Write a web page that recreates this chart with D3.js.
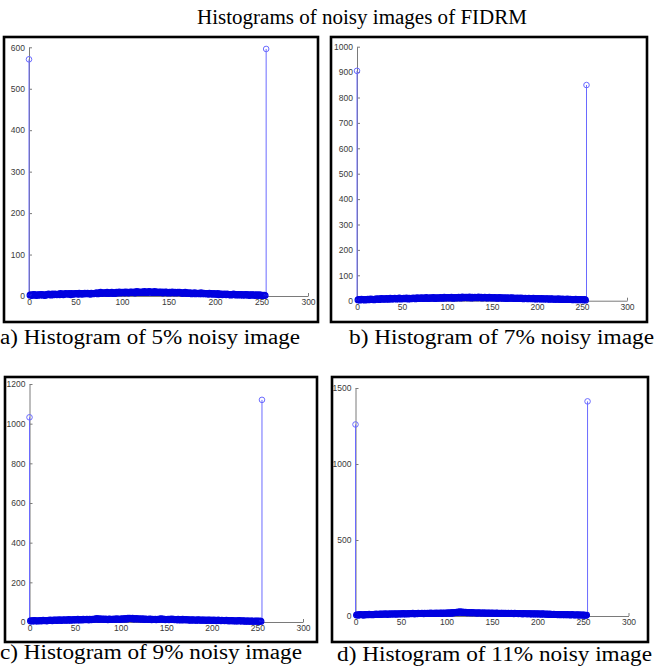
<!DOCTYPE html>
<html><head><meta charset="utf-8">
<script src="https://cdn.jsdelivr.net/npm/d3@7"></script>
<style>html,body{margin:0;padding:0;background:#fff;}svg{display:block;}</style>
</head><body>
<svg id="c" width="657" height="671"></svg>
<script>
// ---------- data ----------
const title = "Histograms of noisy images of FIDRM";
const captions = ["a) Histogram of 5% noisy image","b) Histogram of 7% noisy image","c) Histogram of 9% noisy image","d) Histogram of 11% noisy image"];
const xTicks = [0,50,100,150,200,250,300];
const yTicksA = [0,100,200,300,400,500,600];
const yTicksB = [0,100,200,300,400,500,600,700,800,900,1000];
const yTicksC = [0,200,400,600,800,1000,1200];
const yTicksD = [0,500,1000,1500];
// counts at grey level 0 and 255
const peakA = [571, 596];
const peakB = [905, 849];
const peakC = [1032, 1120];
const peakD = [1260, 1412];
// counts at grey levels 1..254
const noiseA = [2,3,1,2,4,3,2,1,3,2, 3,2,4,3,2,3,1,2,4,3, 5,3,4,2,5,4,3,5,4,3, 4,5,3,6,4,5,3,4,6,5,
 5,4,6,5,3,6,5,4,5,6, 6,5,4,7,5,6,4,6,5,7, 5,6,7,5,6,4,7,6,5,6, 7,6,8,5,7,6,9,7,6,8,
 7,8,6,9,7,6,8,7,9,6, 8,7,6,9,8,7,10,8,7,9, 8,9,7,10,8,9,7,8,10,9, 9,8,10,7,9,11,8,10,9,8,
 10,9,8,11,9,10,8,9,11,10, 9,10,8,9,11,8,10,9,8,10, 9,8,10,7,9,8,10,9,7,8, 9,7,8,10,8,7,9,8,7,9,
 8,9,7,8,6,8,7,9,6,8, 7,6,8,7,5,7,6,8,5,7, 6,7,5,6,8,5,6,7,5,6, 5,6,4,7,5,6,4,5,6,4,
 5,4,6,3,5,4,5,3,4,5, 4,3,5,4,3,4,2,4,3,5, 3,4,2,3,4,3,2,4,3,2, 3,2,4,3,2,3,1,3,2,3,
 2,3,1,2,3,2,1,3,2,1, 2,1,2,1];
const noiseB = [3,5,2,4,6,3,5,4,2,5, 4,6,3,5,7,4,6,5,3,6, 7,5,8,6,4,7,9,6,8,5, 8,6,9,7,5,8,10,7,6,9,
 7,10,8,6,9,7,11,8,6,9, 8,10,7,9,11,8,6,10,9,7, 10,8,11,9,7,10,12,8,9,11, 9,12,10,8,11,9,13,10,8,11,
 10,12,9,11,13,10,8,12,11,9, 12,10,13,11,9,12,14,10,11,13, 11,13,10,12,14,11,9,13,12,10, 13,11,14,12,10,13,15,11,12,14,
 12,14,11,13,15,12,10,14,13,11, 14,12,13,11,15,13,12,14,10,13, 12,14,11,13,10,12,14,11,13,10, 12,11,13,10,12,9,11,13,10,12,
 11,9,12,10,11,8,12,10,9,11, 10,12,9,11,8,10,9,11,8,10, 9,11,8,10,7,9,10,8,9,7, 10,8,9,7,8,10,7,9,6,8,
 9,7,8,6,9,7,8,6,7,8, 6,8,7,5,7,8,6,7,5,6, 7,5,6,8,5,6,4,7,5,6, 4,6,5,7,4,5,6,4,5,3,
 5,4,6,3,5,4,3,5,4,3, 4,3,5,2];
const noiseC = [5,7,4,6,8,5,7,6,4,7, 6,8,5,7,9,6,8,7,5,8, 9,7,10,8,6,9,11,8,10,7, 10,8,12,9,7,11,10,9,12,8,
 11,9,13,10,8,12,11,9,13,10, 12,10,14,11,9,13,12,10,14,11, 13,11,15,12,10,14,13,11,15,12, 14,16,13,18,15,12,17,14,13,16,
 14,12,16,13,15,11,14,16,13,12, 15,13,16,12,14,17,13,15,12,16, 14,17,13,16,18,15,14,19,17,20, 18,16,19,15,17,14,18,16,15,17,
 14,16,13,17,15,12,16,14,13,15, 12,16,14,11,15,13,12,14,11,13, 15,12,14,17,13,16,12,14,11,13, 12,14,11,15,13,16,12,14,11,13,
 12,10,14,11,13,9,12,14,10,12, 11,13,9,12,10,11,8,12,10,11, 9,11,8,10,12,9,11,8,10,9, 11,8,10,7,9,11,8,10,7,9,
 8,10,7,9,6,8,10,7,8,6, 9,7,8,6,7,9,6,8,5,7, 6,8,5,7,6,4,7,5,6,8, 5,6,4,7,5,6,3,5,6,4,
 5,3,6,4,5,3,4,6,3,5, 4,2,5,3];
const noiseD = [6,9,5,8,11,7,9,8,5,10, 8,11,7,9,12,8,10,9,7,11, 12,10,13,11,9,12,14,10,13,11, 13,11,15,12,10,14,13,11,15,12,
 14,12,16,13,11,15,14,12,16,13, 15,13,17,14,12,16,15,13,17,14, 16,14,18,15,13,17,16,14,18,15, 17,15,19,16,14,18,17,15,19,16,
 18,16,20,17,15,19,18,16,20,17, 19,17,21,18,16,20,19,17,21,18, 20,18,22,19,17,23,21,19,24,22, 25,23,27,24,29,26,23,27,24,22,
 25,21,23,20,24,22,19,23,21,20, 22,19,21,18,22,20,19,21,18,20, 21,18,20,17,21,19,18,20,17,19, 20,17,19,16,20,18,17,19,16,18,
 19,16,18,15,19,17,16,18,15,17, 18,15,17,14,18,16,15,17,14,16, 17,14,16,13,17,15,14,16,13,15, 16,13,15,12,16,14,13,15,12,14,
 15,12,14,11,15,13,12,14,11,13, 12,10,13,9,12,11,10,12,9,11, 10,8,11,9,7,10,9,8,11,7, 9,8,10,7,9,6,8,10,7,8,
 6,8,7,9,5,7,8,6,7,5, 7,6,4,6];

// ---------- layout ----------
const panels = [
  {peak:peakA, noise:noiseA, yt:yTicksA, ymax:600,  box:[4,37,318,322],  x:[29,308],   y:[296,47.3],  cap:{x:0,   y:344, len:300}},
  {peak:peakB, noise:noiseB, yt:yTicksB, ymax:1000, box:[331,37,647,322], x:[357,627], y:[300.7,46.7], cap:{x:349, y:344, len:305}},
  {peak:peakC, noise:noiseC, yt:yTicksC, ymax:1200, box:[5,377,317,642],  x:[29.5,303], y:[622,384],   cap:{x:0,   y:659, len:302}},
  {peak:peakD, noise:noiseD, yt:yTicksD, ymax:1500, box:[332,377,648,642], x:[355.5,628.5], y:[616,388], cap:{x:337, y:661, len:315}}
];

const svg = d3.select("#c");
svg.append("rect").attr("width",657).attr("height",671).attr("fill","#fff");

svg.append("text").attr("x",197).attr("y",24)
  .attr("font-family","'Liberation Serif','Times New Roman',serif").attr("font-size",20)
  .attr("textLength",330).attr("lengthAdjust","spacingAndGlyphs")
  .attr("fill","#000").text(title);

panels.forEach((p,i) => {
  const g = svg.append("g");
  const [bx0,by0,bx1,by1] = p.box;
  g.append("rect").attr("x",bx0).attr("y",by0).attr("width",bx1-bx0).attr("height",by1-by0)
    .attr("fill","#fff").attr("stroke","#000").attr("stroke-width",2.6);

  const x = d3.scaleLinear().domain([0,300]).range(p.x);
  const y = d3.scaleLinear().domain([0,p.ymax]).range(p.y);

  const xAxis = d3.axisBottom(x).tickValues(xTicks).tickFormat(d3.format("d")).tickSizeInner(-3).tickSizeOuter(0).tickPadding(4);
  const yAxis = d3.axisLeft(y).tickValues(p.yt).tickFormat(d3.format("d")).tickSizeInner(-3).tickSizeOuter(0).tickPadding(4);

  const ax = g.append("g").attr("transform",`translate(0,${p.y[0]})`).call(xAxis);
  const ay = g.append("g").attr("transform",`translate(${p.x[0]},0)`).call(yAxis);
  [ax,ay].forEach(a => {
    a.select(".domain").attr("stroke","#7a7a7a").attr("stroke-width",1);
    a.selectAll(".tick line").attr("stroke","#7a7a7a");
    a.selectAll(".tick text").attr("fill","#3a3a3a").attr("font-size",8.5)
      .attr("font-family","'Liberation Sans Narrow','Liberation Sans',Arial,sans-serif");
  });
  ax.selectAll(".tick text").attr("dy","0.6em");
  ay.selectAll(".tick line").attr("x2",3);

  const data = [p.peak[0], ...p.noise, p.peak[1]].map((v,k)=>({bin:k, v:v}));

  g.append("g").selectAll("line").data(data).join("line")
    .attr("x1",d=>x(d.bin)).attr("x2",d=>x(d.bin))
    .attr("y1",y(0)).attr("y2",d=>y(d.v))
    .attr("stroke","#6a6aff").attr("stroke-width",1);

  g.append("g").selectAll("circle").data(data).join("circle")
    .attr("cx",d=>x(d.bin)).attr("cy",d=>y(d.v)).attr("r",2.8)
    .attr("fill","none")
    .attr("stroke", d => (d.bin===0||d.bin===255) ? "#6a6aff" : "#0000e0")
    .attr("stroke-width", d => (d.bin===0||d.bin===255) ? 1 : 1.2);

  svg.append("text").attr("x",p.cap.x).attr("y",p.cap.y)
    .attr("font-family","'Liberation Serif','Times New Roman',serif").attr("font-size",20)
    .attr("textLength",p.cap.len).attr("lengthAdjust","spacingAndGlyphs")
    .attr("fill","#000").text(captions[i]);
});
</script>
</body></html>
